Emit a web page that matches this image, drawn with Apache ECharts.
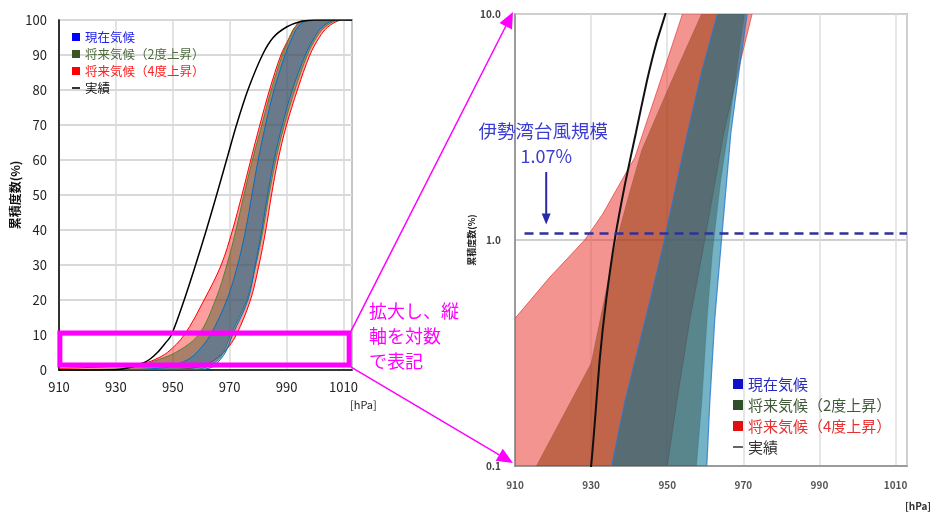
<!DOCTYPE html>
<html>
<head>
<meta charset="utf-8">
<script src="https://cdn.jsdelivr.net/npm/echarts@6/dist/echarts.min.js"></script>
<style>
  html, body { margin: 0; padding: 0; background: #fff; }
  #c { width: 946px; height: 513px; }
</style>
</head>
<body>
<div id="c"></div>
<script>
// Cumulative frequency (%) of typhoon central pressure (hPa).
// Each scenario is a band: upper edge (higher cumulative %) and lower edge.
const pressureTicks = [910, 930, 950, 970, 990, 1010];
const logTicks = [0.1, 1.0, 10.0];

const NAME_CUR = '現在気候';
const NAME_P2 = '将来気候（2度上昇）';
const NAME_P4 = '将来気候（4度上昇）';
const NAME_OBS = '実績';

const currentUpper = [[910,0.01],[925,0.035],[935.4,0.1],[938.9,0.193],[945,0.5],[948.6,0.89],[955.3,2.96],[959,5.5],[963.2,10],[969,20],[972.8,30],[975.6,40],[977.8,50],[980,60],[982.6,70],[985.6,80],[989.5,90],[992,95],[994,98],[997.5,100],[1013,100]];
const currentLower = [[910,0.001],[955,0.02],[958.5,0.06],[960.4,0.1],[961.2,0.193],[962.5,0.45],[964,0.89],[966.7,2.96],[968.8,5.5],[971,10],[976.4,20],[979,30],[981.3,40],[983.3,50],[985.6,60],[988.5,70],[992,80],[996.6,90],[999.8,95],[1002.5,98],[1007,100],[1013,100]];

const plus2Upper = [[910,0.06],[915.6,0.1],[922.5,0.165],[930,0.285],[933.5,0.55],[936.7,1.0],[940,1.6],[943.3,2.5],[951,5],[959,10],[965,20],[969,30],[972.2,40],[975,50],[978,60],[981.3,70],[984.6,80],[988.5,90],[991,95],[993,98],[996,100],[1013,100]];
const plus2Lower = [[910,0.001],[950,0.02],[955,0.05],[957.7,0.1],[959.1,0.193],[960.5,0.45],[961.9,0.89],[964,1.8],[966,3],[967.8,5],[970.3,10],[976,20],[979.2,30],[981.7,40],[983.8,50],[986.2,60],[989.2,70],[992.9,80],[997.3,90],[1000.5,95],[1003.5,98],[1008,100],[1013,100]];

const plus4Upper = [[910,0.45],[919,0.68],[928.3,1.0],[933,1.3],[937.5,1.77],[941.5,2.32],[943.7,3],[948.1,5],[954,10],[961,20],[967,30],[971,40],[974.3,50],[977.4,60],[980.6,70],[984,80],[988,90],[991,95],[993,98],[996,100],[1013,100]];
const plus4Lower = [[910,0.001],[941,0.01],[947,0.04],[950,0.1],[952.5,0.193],[956,0.45],[959.3,0.89],[962,1.6],[964.8,2.96],[968.5,5.5],[972.3,10],[977.3,20],[980.3,30],[982.7,40],[984.7,50],[987,60],[990,70],[993.8,80],[998.2,90],[1001.5,95],[1004.5,98],[1009,100],[1013,100]];

const observed = [[910,0.002],[920,0.01],[925,0.03],[928,0.06],[930,0.1],[932.3,0.3],[934,0.55],[936.2,1.0],[939,1.8],[941.8,3],[944.6,5],[947.2,7.5],[949.5,10],[954,20],[958,30],[961.8,40],[965.4,50],[968.9,60],[972.4,70],[976.4,80],[981.5,90],[985.3,95],[990,98],[994.7,99.5],[1000,100],[1013,100]];

const iseBayLevel = 1.07;

const FONT = '"Noto Sans CJK JP", "Noto Sans", sans-serif';

function samePoint(a, b) {
  return Math.abs(a[0] - b[0]) < 0.01 && Math.abs(a[1] - b[1]) < 0.01;
}

function band(name, upper, lower, gridIndex, fill, stroke, strokeWidth, z, smooth) {
  return {
    type: 'custom',
    name: name,
    xAxisIndex: gridIndex,
    yAxisIndex: gridIndex,
    clip: true,
    silent: true,
    z: z,
    data: [[950, 1]],
    encode: { x: 0, y: 1 },
    itemStyle: { color: stroke },
    renderItem: function (params, api) {
      const up = upper.map(function (p) { return api.coord(p); });
      const lo = lower.map(function (p) { return api.coord(p); });
      const back = lo.slice().reverse();
      if (samePoint(back[0], up[up.length - 1])) back.shift();
      const poly = up.concat(back);
      const children = [
        { type: 'polygon', shape: { points: poly, smooth: smooth }, style: { fill: fill, stroke: null } }
      ];
      if (strokeWidth > 0) {
        children.push({ type: 'polyline', shape: { points: up, smooth: smooth }, style: { stroke: stroke, lineWidth: strokeWidth, fill: null } });
        children.push({ type: 'polyline', shape: { points: lo, smooth: smooth }, style: { stroke: stroke, lineWidth: strokeWidth, fill: null } });
      }
      return { type: 'group', children: children };
    }
  };
}

const chart = echarts.init(document.getElementById('c'));

const LINE_ICON = 'path://M0,0L10,0L10,2L0,2Z';

const option = {
  animation: false,
  backgroundColor: '#fff',
  textStyle: { fontFamily: FONT },
  grid: [
    { left: 59, top: 20, width: 293, height: 350, show: true, borderColor: '#666', borderWidth: 1.5, backgroundColor: 'transparent' },
    { left: 515, top: 14, width: 392, height: 452, show: true, borderColor: '#8a8a8a', borderWidth: 1.5, backgroundColor: 'transparent' }
  ],
  xAxis: [
    {
      type: 'value', gridIndex: 0, min: 910, max: 1013, interval: 20,
      axisLine: { show: true, onZero: false, lineStyle: { color: '#000', width: 1.5 } },
      axisTick: { show: false },
      axisLabel: { fontSize: 13, color: '#222', margin: 11, showMaxLabel: false, fontFamily: FONT,
        formatter: function (v) { return pressureTicks.indexOf(v) >= 0 ? String(v) : ''; } },
      splitLine: { show: true, lineStyle: { color: '#dadada', width: 1.5 } }
    },
    {
      type: 'value', gridIndex: 1, min: 910, max: 1013, interval: 20,
      axisLine: { show: true, onZero: false, lineStyle: { color: '#8a8a8a', width: 1.5 } },
      axisTick: { show: false },
      axisLabel: { fontSize: 10, color: '#555', fontWeight: 'bold', margin: 14, showMaxLabel: false, fontFamily: FONT,
        formatter: function (v) { return pressureTicks.indexOf(v) >= 0 ? String(v) : ''; } },
      splitLine: { show: true, lineStyle: { color: '#dedede', width: 1.5 } }
    }
  ],
  yAxis: [
    {
      type: 'value', gridIndex: 0, min: 0, max: 100, interval: 10,
      name: '累積度数(%)', nameLocation: 'middle', nameGap: 25, nameRotate: 90,
      nameTextStyle: { fontSize: 12, color: '#111', fontWeight: 'bold', fontFamily: FONT },
      axisLine: { show: true, lineStyle: { color: '#000', width: 1.5 } },
      axisTick: { show: false },
      axisLabel: { fontSize: 13, color: '#222', margin: 12, fontFamily: FONT },
      splitLine: { show: true, lineStyle: { color: '#d9d9d9', width: 2 } }
    },
    {
      type: 'log', logBase: 10, gridIndex: 1, min: logTicks[0], max: logTicks[logTicks.length - 1],
      name: '累積度数(%)', nameLocation: 'middle', nameGap: 26, nameRotate: 90,
      nameTextStyle: { fontSize: 9, color: '#222', fontWeight: 'bold', fontFamily: FONT },
      axisLine: { show: true, lineStyle: { color: '#8a8a8a', width: 1.5 } },
      axisTick: { show: false },
      axisLabel: { fontSize: 10, color: '#444', fontWeight: 'bold', margin: 14, fontFamily: FONT,
        formatter: function (v) { return Number(v).toFixed(1); } },
      splitLine: { show: true, lineStyle: { color: '#cfcfcf', width: 2 } },
      minorSplitLine: { show: false }
    }
  ],
  legend: [
    {
      left: 72, top: 30, padding: 0, orient: 'vertical', itemWidth: 8, itemHeight: 8, itemGap: 3,
      selectedMode: false, symbolKeepAspect: true,
      textStyle: { fontSize: 12.5, lineHeight: 14, fontFamily: FONT },
      data: [
        { name: NAME_CUR, icon: 'rect', itemStyle: { color: '#0000ff' }, textStyle: { color: '#2222ee' } },
        { name: NAME_P2, icon: 'rect', itemStyle: { color: '#385723' }, textStyle: { color: '#4d6b3c' } },
        { name: NAME_P4, icon: 'rect', itemStyle: { color: '#ff0000' }, textStyle: { color: '#ff2020' } },
        { name: NAME_OBS, icon: LINE_ICON, itemStyle: { color: '#000' }, textStyle: { color: '#111' } }
      ]
    },
    {
      left: 733, top: 376, padding: 0, orient: 'vertical', itemWidth: 10, itemHeight: 10, itemGap: 5,
      selectedMode: false, symbolKeepAspect: true,
      textStyle: { fontSize: 15, lineHeight: 16, fontFamily: FONT },
      data: [
        { name: NAME_CUR, icon: 'rect', itemStyle: { color: '#1010c8' }, textStyle: { color: '#2a2ac0' } },
        { name: NAME_P2, icon: 'rect', itemStyle: { color: '#2f4f2a' }, textStyle: { color: '#3f5a38' } },
        { name: NAME_P4, icon: 'rect', itemStyle: { color: '#e01010' }, textStyle: { color: '#e83030' } },
        { name: NAME_OBS, icon: LINE_ICON, itemStyle: { color: '#666' }, textStyle: { color: '#333' } }
      ]
    }
  ],
  series: [
    // linear panel
    band(NAME_P4, plus4Upper, plus4Lower, 0, 'rgba(255,0,0,0.38)', '#ff0000', 1, 2, 0.35),
    band(NAME_P2, plus2Upper, plus2Lower, 0, 'rgba(56,87,35,0.42)', '#548235', 1, 3, 0.35),
    band(NAME_CUR, currentUpper, currentLower, 0, 'rgba(0,112,192,0.38)', '#0070c0', 1, 4, 0.35),
    {
      type: 'line', name: NAME_OBS, xAxisIndex: 0, yAxisIndex: 0, data: observed,
      symbol: 'none', smooth: 0.3, z: 6, silent: true,
      lineStyle: { color: '#000', width: 1.5 }, itemStyle: { color: '#000' }
    },
    // logarithmic panel
    band(NAME_P4, plus4Upper, plus4Lower, 1, 'rgba(235,60,55,0.55)', 'rgba(215,40,40,0.6)', 1, 2, 0),
    band(NAME_P2, plus2Upper, plus2Lower, 1, 'rgba(140,54,3,0.5)', 'rgba(90,60,40,0.25)', 0.8, 3, 0),
    band(NAME_CUR, currentUpper, currentLower, 1, 'rgba(0,117,150,0.55)', 'rgba(40,120,210,0.8)', 1.2, 4, 0),
    {
      type: 'line', name: NAME_OBS, xAxisIndex: 1, yAxisIndex: 1, data: observed,
      symbol: 'none', smooth: 0.2, z: 6, silent: true,
      lineStyle: { color: '#111', width: 2 }, itemStyle: { color: '#111' },
      markLine: {
        silent: true, symbol: 'none', z: 7,
        label: { show: false },
        lineStyle: { color: '#30309a', width: 2.5, type: [9, 6] },
        data: [[{ coord: [912.5, iseBayLevel] }, { coord: [1013, iseBayLevel] }]]
      }
    }
  ]
};

chart.setOption(option);

// Annotations: zoom box on the linear panel, connectors, notes
const MAG = '#ff00ff';
const boxTL = chart.convertToPixel({ gridIndex: 0 }, [910.3, 10.6]);
const boxBR = chart.convertToPixel({ gridIndex: 0 }, [1012, 1.4]);
const logTop = chart.convertToPixel({ gridIndex: 1 }, [910, 10]);
const logBot = chart.convertToPixel({ gridIndex: 1 }, [910, 0.1]);

function connector(from, to) {
  const tip = [to[0] - 2, to[1] - 2];
  const dx = tip[0] - from[0], dy = tip[1] - from[1];
  const len = Math.sqrt(dx * dx + dy * dy);
  const ux = dx / len, uy = dy / len;
  const hl = 16, hw = 7;
  const base = [tip[0] - ux * hl, tip[1] - uy * hl];
  const p1 = [base[0] - uy * hw, base[1] + ux * hw];
  const p2 = [base[0] + uy * hw, base[1] - ux * hw];
  return [
    { type: 'line', shape: { x1: from[0], y1: from[1], x2: base[0], y2: base[1] }, style: { stroke: MAG, lineWidth: 1.5 }, z: 20 },
    { type: 'polygon', shape: { points: [tip, p1, p2] }, style: { fill: MAG }, z: 20 }
  ];
}

const noteX = chart.convertToPixel({ gridIndex: 1 }, [918.2, 1])[0];
const noteY1 = chart.convertToPixel({ gridIndex: 1 }, [918.2, 3.05])[1];
const noteY2 = chart.convertToPixel({ gridIndex: 1 }, [918.2, 2.36])[1];
const arrowY1 = chart.convertToPixel({ gridIndex: 1 }, [918.2, 2.0])[1];
const arrowY2 = chart.convertToPixel({ gridIndex: 1 }, [918.2, 1.17])[1];
const axisEndL = chart.convertToPixel({ gridIndex: 0 }, [1013, 0]);
const axisEndR = chart.convertToPixel({ gridIndex: 1 }, [1013, 0.1]);

const graphics = [
  { type: 'rect', shape: { x: boxTL[0], y: boxTL[1], width: boxBR[0] - boxTL[0], height: boxBR[1] - boxTL[1] },
    style: { fill: null, stroke: MAG, lineWidth: 5 }, z: 20 },
  ...connector([boxBR[0] + 2, boxTL[1] - 2], logTop),
  ...connector([boxBR[0] + 2, boxBR[1] + 2], [logBot[0], logBot[1] - 1]),
  { type: 'text', left: 369, top: 299, z: 20,
    style: { text: '拡大し、縦\n軸を対数\nで表記', fill: MAG, fontSize: 18, lineHeight: 25, fontFamily: FONT } },
  { type: 'text', x: noteX - 3, y: noteY1, z: 20,
    style: { text: '伊勢湾台風規模', fill: '#3c3cd2', fontSize: 18.5, fontFamily: FONT, align: 'center', verticalAlign: 'middle' } },
  { type: 'text', x: noteX, y: noteY2, z: 20,
    style: { text: '1.07%', fill: '#3c3cd2', fontSize: 18, fontFamily: FONT, align: 'center', verticalAlign: 'middle' } },
  { type: 'line', shape: { x1: noteX, y1: arrowY1, x2: noteX, y2: arrowY2 - 8 }, style: { stroke: '#2a2aa8', lineWidth: 2 }, z: 20 },
  { type: 'polygon', shape: { points: [[noteX, arrowY2], [noteX - 4.5, arrowY2 - 11], [noteX + 4.5, arrowY2 - 11]] }, style: { fill: '#2a2aa8' }, z: 20 },
  { type: 'text', x: axisEndL[0] - 2, y: axisEndL[1] + 35, z: 20,
    style: { text: '[hPa]', fill: '#222', fontSize: 11, fontFamily: FONT, align: 'left', verticalAlign: 'middle' } },
  { type: 'text', x: axisEndR[0] - 2, y: axisEndR[1] + 40, z: 20,
    style: { text: '[hPa]', fill: '#333', fontSize: 10, fontWeight: 'bold', fontFamily: FONT, align: 'left', verticalAlign: 'middle' } }
];

chart.setOption({ graphic: graphics });
</script>
</body>
</html>
